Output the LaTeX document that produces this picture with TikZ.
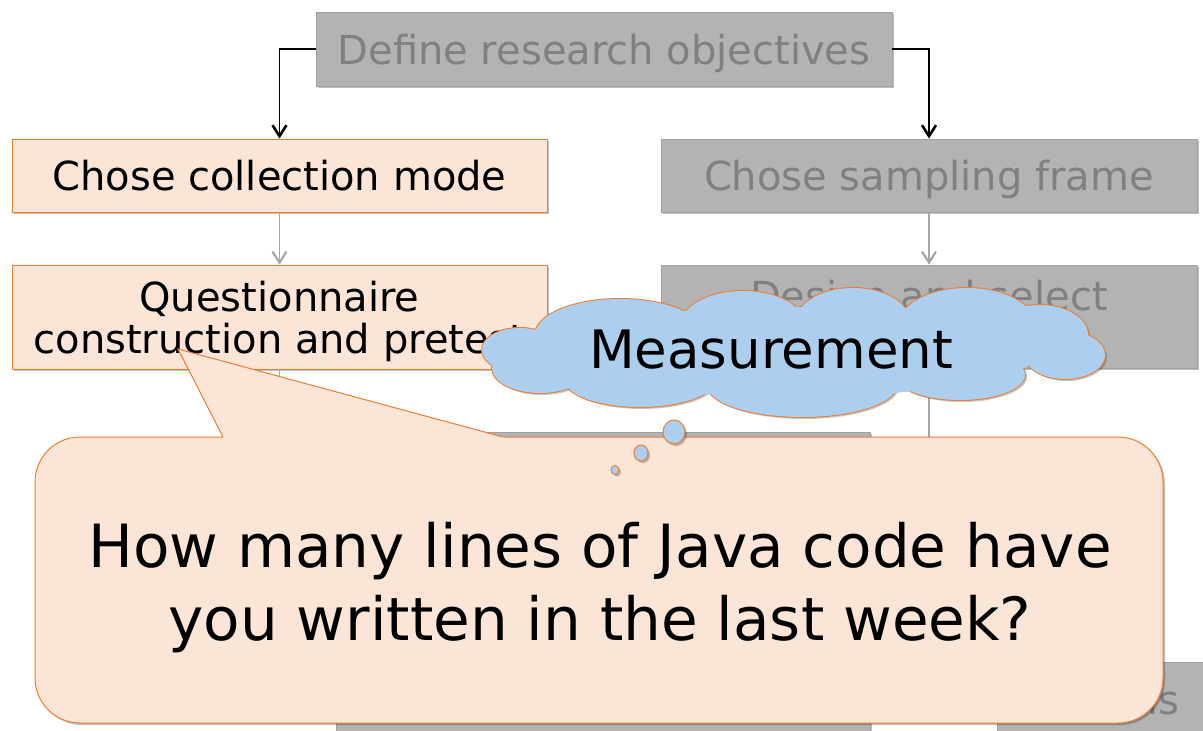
\documentclass[tikz,border=0pt]{standalone}
\usepackage{fontspec}
\setmainfont{DejaVu Sans}
\usetikzlibrary{arrows.meta,shadows}
\definecolor{peach}{RGB}{251,229,214}
\definecolor{orng}{RGB}{237,125,49}
\definecolor{boxgray}{RGB}{179,179,179}
\definecolor{boxline}{RGB}{160,160,160}
\definecolor{txtgray}{RGB}{128,128,128}
\definecolor{linegray}{RGB}{166,166,166}
\definecolor{cloudblue}{RGB}{172,207,240}
\tikzset{
  shd/.style={drop shadow={shadow xshift=2pt,shadow yshift=-2pt,opacity=0.25,fill=black}},
  stagebox/.style={draw=boxline,fill=boxgray,text=txtgray,line width=0.8pt,inner sep=0pt,
    font=\fontsize{40}{42}\selectfont,align=center,text depth=0pt,shd},
  activebox/.style={draw=orng,fill=peach,text=black,line width=0.8pt,inner sep=0pt,
    font=\fontsize{40}{42}\selectfont,align=center,text depth=0pt,shd},
  blkarrow/.style={draw=black,line width=1.4pt,-{Straight Barb[length=11pt,width=14pt,line width=2.6pt]}},
  grayarrow/.style={draw=linegray,line width=1.3pt,-{Straight Barb[length=11pt,width=14pt,line width=2.2pt]}},
  grayline/.style={draw=linegray,line width=1.3pt},
  bubble/.style={draw=orng,fill=cloudblue,line width=1pt,shd},
}
\def\cloudpuffs{%
  (520,350) ellipse [x radius=38pt,y radius=22pt]
  (620,335) ellipse [x radius=85pt,y radius=36pt]
  (743,325) ellipse [x radius=62pt,y radius=34pt]
  (853,322) ellipse [x radius=57pt,y radius=34pt]
  (967,325) ellipse [x radius=68pt,y radius=37pt]
  (1040,335) ellipse [x radius=48pt,y radius=30pt]
  (1065,355) ellipse [x radius=40pt,y radius=24pt]
  (960,375) ellipse [x radius=65pt,y radius=25pt]
  (802,385) ellipse [x radius=95pt,y radius=32pt]
  (640,380) ellipse [x radius=75pt,y radius=27pt]
  (540,368) ellipse [x radius=48pt,y radius=25pt]}
\begin{document}
\begin{tikzpicture}[x=1pt,y=-1pt]
\useasboundingbox (0,0) rectangle (1203,731);
\clip (0,0) rectangle (1203,731);

% stage boxes
\node[stagebox,minimum width=576pt,minimum height=74pt] (top) at (604,49) {Define research objectives};
\node[activebox,minimum width=535pt,minimum height=73pt] (ccm) at (279.5,175.5) {Chose collection mode};
\node[stagebox,minimum width=536pt,minimum height=73pt] (csf) at (929,175.5) {Chose sampling frame};
\node[activebox,minimum width=535pt,minimum height=104pt] (qc) at (279.5,317) {Questionnaire\\construction and pretest};
\node[stagebox,minimum width=536pt,minimum height=103pt] (ds) at (929,316.5) {Design and select\\\mbox{}};
\node[stagebox,minimum width=534pt,minimum height=80pt] (mid) at (603,472) {};
\node[stagebox,minimum width=534pt,minimum height=100pt] (botl) at (603,740) {};
\node[stagebox,minimum width=226pt,minimum height=76pt] (botr) at (1110,700) {};
\node[anchor=base west,inner sep=0pt,text=txtgray,font=\fontsize{40}{42}\selectfont] (botrtxt) at (1147,714) {is};

% connectors
\draw[blkarrow] (top.west) -| (ccm.north);
\draw[blkarrow] (top.east) -| (csf.north);
\draw[grayarrow] (ccm.south) -- (qc.north);
\draw[grayarrow] (csf.south) -- (ds.north);
\coordinate (qcend) at (279.5,440);
\coordinate (dsend) at (929,440);
\draw[grayline] (qc.south) -- (qcend);
\draw[grayline] (ds.south) -- (dsend);

% speech callout
\draw[draw=orng,fill=peach,line width=1pt,rounded corners=45pt,shd] (35,437) rectangle (1163,723);
\fill[peach] (178,349) -- (507,438.2) -- (223.6,438.2) -- cycle;
\draw[orng,line width=1pt,line join=miter] (223,437) -- (178,349) -- (503,437);
\node[inner sep=0pt,align=center,text depth=0pt,font=\fontsize{59.6}{73}\selectfont] (question) at (600,581)
  {How many lines of Java code have\\you written in the last week?};

% thought cloud
\fill[black,opacity=0.22,shift={(2,2)}] \cloudpuffs;
\draw[orng,line width=2pt] \cloudpuffs;
\fill[cloudblue] \cloudpuffs (790,352) ellipse [x radius=250pt,y radius=45pt];
\node[anchor=base,inner sep=0pt,font=\fontsize{53}{60}\selectfont] (meastxt) at (771,368) {Measurement};
\draw[bubble] (674,432) ellipse [x radius=11pt,y radius=12pt];
\draw[bubble] (641,453) ellipse [x radius=7pt,y radius=8pt];
\draw[bubble] (615,470) ellipse [x radius=4pt,y radius=4.5pt];
\end{tikzpicture}
\end{document}
